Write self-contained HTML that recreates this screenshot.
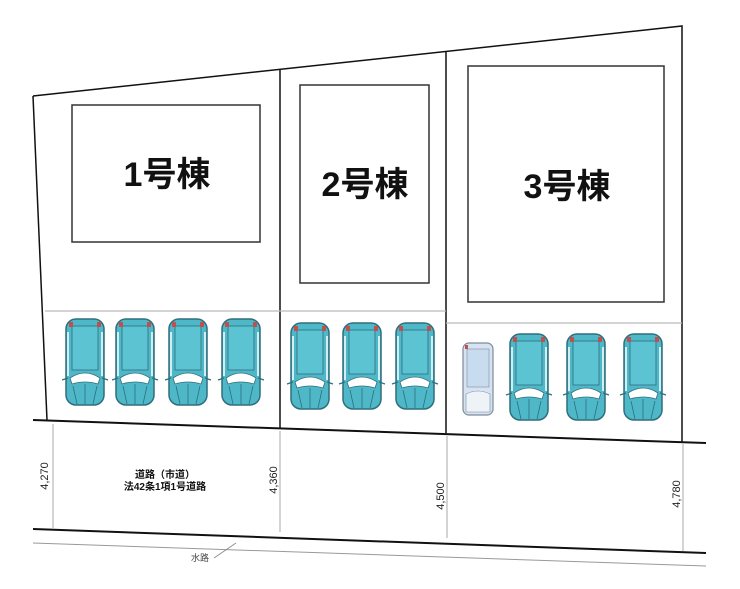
<!DOCTYPE html>
<html><head><meta charset="utf-8"><style>
html,body{margin:0;padding:0;background:#fff;}
svg{display:block;}
text{font-family:"Liberation Sans","Noto Sans CJK JP",sans-serif;}
</style></head><body>
<svg width="740" height="589" viewBox="0 0 740 589" xmlns="http://www.w3.org/2000/svg">
<defs>
<g id="car">
  <rect x="1" y="1" width="38" height="86" rx="10" fill="#4fb8c8" stroke="#2d6f7c" stroke-width="1.5"/>
  <rect x="7" y="8" width="26" height="44" fill="#5cc3d2" stroke="#2d6f7c" stroke-width="0.8"/>
  <path d="M5 60 Q20 50 35 60 L33 66 Q20 62 7 66 Z" fill="#fff" stroke="#2d6f7c" stroke-width="0.8"/>
  <path d="M3 14 L3 58 M37 14 L37 58" stroke="#fff" stroke-width="1.5"/>
  <path d="M8 68 L12 86 M32 68 L28 86 M20 66 L20 86" stroke="#2d6f7c" stroke-width="0.8"/>
  <rect x="4" y="4" width="4" height="5" fill="#c0504d"/>
  <rect x="32" y="4" width="4" height="5" fill="#c0504d"/>
  <path d="M-3 62 L3 60 M43 62 L37 60" stroke="#2d6f7c" stroke-width="1.2"/>
</g>
<g id="wcar">
  <rect x="1" y="1" width="30" height="72" rx="6" fill="#d5e3f2" stroke="#7d8a99" stroke-width="1.2"/>
  <rect x="5" y="7" width="22" height="38" fill="#c8dcf0" stroke="#7d8a99" stroke-width="0.6"/>
  <path d="M4 52 Q16 46 28 52 L28 70 L4 70 Z" fill="#eef3f8" stroke="#7d8a99" stroke-width="0.6"/>
  <rect x="3" y="3" width="3" height="4" fill="#c0504d"/>
</g>
</defs>
<!-- property outline -->
<g fill="none" stroke="#111" stroke-width="1.5">
  <polyline points="33,96 682,26 682,442"/>
  <line x1="33" y1="96" x2="47" y2="420"/>
  <line x1="280" y1="70" x2="280" y2="428"/>
  <line x1="446" y1="52" x2="446" y2="433"/>
  <line x1="33" y1="420" x2="706" y2="443" stroke-width="2"/>
  <line x1="33" y1="529" x2="706" y2="553" stroke-width="2"/>
</g>
<line x1="33" y1="543" x2="706" y2="566" stroke="#999" stroke-width="1"/>
<!-- parking separators -->
<g stroke="#bbb" stroke-width="1.2">
  <line x1="45" y1="311" x2="446" y2="311"/>
  <line x1="446" y1="323" x2="682" y2="323"/>
</g>
<!-- buildings -->
<g fill="#fff" stroke="#333" stroke-width="1.5">
  <rect x="72" y="105" width="188" height="137"/>
  <rect x="300" y="85" width="129" height="198"/>
  <rect x="468" y="66" width="196" height="236"/>
</g>
<g font-weight="bold" font-size="34" text-anchor="middle" fill="#111">
  <text x="167" y="186">1号棟</text>
  <text x="365" y="196">2号棟</text>
  <text x="567" y="198">3号棟</text>
</g>
<!-- cars -->
<use href="#car" x="65" y="318"/>
<use href="#car" x="115" y="318"/>
<use href="#car" x="168" y="318"/>
<use href="#car" x="221" y="318"/>
<use href="#car" x="290" y="322"/>
<use href="#car" x="342" y="322"/>
<use href="#car" x="395" y="322"/>
<use href="#wcar" x="462" y="342"/>
<use href="#car" x="509" y="333"/>
<use href="#car" x="566" y="333"/>
<use href="#car" x="623" y="333"/>
<!-- dimensions -->
<g stroke="#aaa" stroke-width="1">
  <line x1="53" y1="424" x2="53" y2="528"/>
  <line x1="280" y1="431" x2="280" y2="532"/>
  <line x1="447" y1="436" x2="447" y2="538"/>
  <line x1="683" y1="444" x2="683" y2="551"/>
</g>
<g font-size="11" fill="#222" text-anchor="middle">
  <text transform="translate(48,476) rotate(-90)">4,270</text>
  <text transform="translate(277,480) rotate(-90)">4,360</text>
  <text transform="translate(444,496) rotate(-90)">4,500</text>
  <text transform="translate(680,494) rotate(-90)">4,780</text>
</g>
<g font-size="10" font-weight="bold" fill="#111" text-anchor="middle">
  <text x="165" y="478">道路（市道）</text>
  <text x="165" y="490">法42条1項1号道路</text>
</g>
<line x1="214" y1="558" x2="236" y2="543" stroke="#888" stroke-width="0.8"/>
<text x="200" y="561" font-size="9" fill="#444" text-anchor="middle">水路</text>
</svg>
</body></html>
